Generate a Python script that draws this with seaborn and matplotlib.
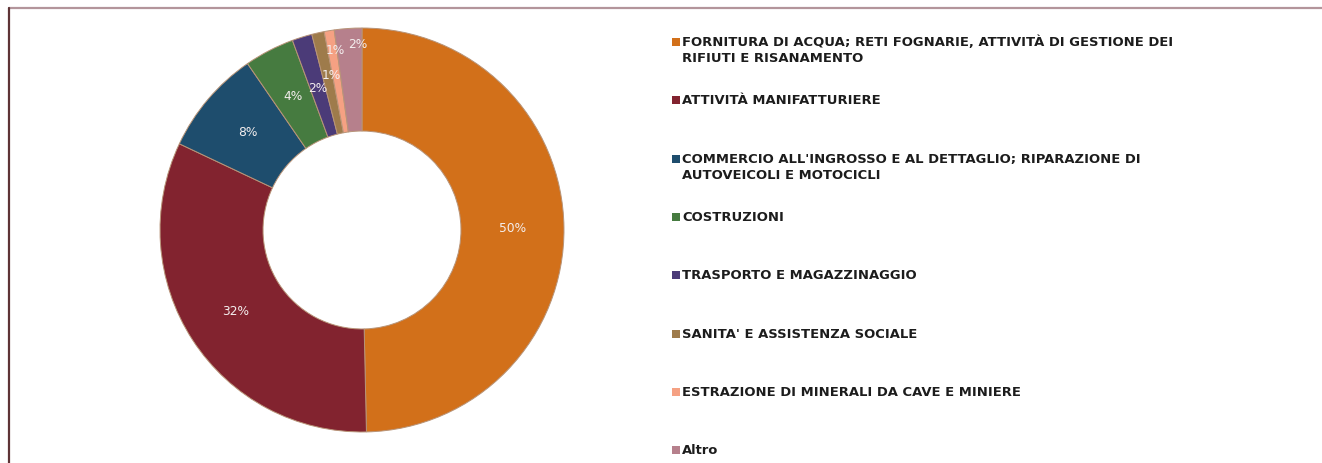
import matplotlib
matplotlib.use("Agg")
import matplotlib.pyplot as plt
from matplotlib.lines import Line2D
from matplotlib.patches import Rectangle
import numpy as np
import seaborn as sns

# sectors in the order they appear (clockwise from 12 o'clock)
sectors = [
    "FORNITURA DI ACQUA; RETI FOGNARIE, ATTIVITÀ DI GESTIONE DEI\nRIFIUTI E RISANAMENTO",
    "ATTIVITÀ MANIFATTURIERE",
    "COMMERCIO ALL'INGROSSO E AL DETTAGLIO; RIPARAZIONE DI\nAUTOVEICOLI E MOTOCICLI",
    "COSTRUZIONI",
    "TRASPORTO E MAGAZZINAGGIO",
    "SANITA' E ASSISTENZA SOCIALE",
    "ESTRAZIONE DI MINERALI DA CAVE E MINIERE",
    "Altro",
]
shares = [49.7, 32.4, 8.4, 4.0, 1.6, 1.0, 0.8, 2.2]
slice_colors = ["#D2701A", "#82232F", "#1E4D6D", "#467B40",
                "#4B3B78", "#9E7B4B", "#F5A183", "#B6808C"]

# where each percentage sits (fraction of outer radius, small angle nudge)
label_r = [0.745, 0.745, 0.745, 0.745, 0.735, 0.78, 0.9, 0.92]
label_nudge = [0, 0, 0, 0, 0, -1.2, -0.8, -2.6]

sns.set_theme(style="white")
plt.rcParams["font.family"] = ["DejaVu Sans"]

W, H = 1322, 463
fig = plt.figure(figsize=(W / 100, H / 100), dpi=100)
fig.patch.set_facecolor("white")

# donut
ax = fig.add_axes([158 / W, 29 / H, 408 / W, 408 / H])
wedges, _ = ax.pie(shares, colors=sns.color_palette(slice_colors), startangle=90,
                   counterclock=False, radius=1,
                   wedgeprops=dict(width=0.51, edgecolor="#B89478", linewidth=0.7))
ax.set_xlim(-1.01, 1.01)
ax.set_ylim(-1.01, 1.01)
ax.set_aspect("equal")
ax.axis("off")

for w, v, r, nd in zip(wedges, shares, label_r, label_nudge):
    ang = np.deg2rad((w.theta1 + w.theta2) / 2 + nd)
    ax.text(r * np.cos(ang), r * np.sin(ang), f"{v:.0f}%", ha="center", va="center",
            fontsize=8.8, color="#F4EEEE")

# legend drawn by hand so that every entry starts on a fixed grid
first_y, step, line_gap = 42, 58.3, 16
box_x, text_x, box = 672, 682, 8

# pick the font size so the longest line spans the same width as in the source
renderer = fig.canvas.get_renderer()
probe = fig.text(0, 0, sectors[0].split("\n")[0], fontsize=10, fontweight="bold")
probe_w = probe.get_window_extent(renderer).width
probe.remove()
legend_fs = 10 * 488 / probe_w

for i, (name, col) in enumerate(zip(sectors, slice_colors)):
    yc = first_y + i * step
    fig.patches.append(Rectangle((box_x / W, 1 - (yc + box / 2) / H), box / W, box / H,
                                 transform=fig.transFigure, facecolor=col,
                                 edgecolor="none"))
    for j, line in enumerate(name.split("\n")):
        fig.text(text_x / W, 1 - (yc + 4 + j * line_gap) / H, line, ha="left",
                 va="baseline", fontsize=legend_fs, fontweight="bold", color="#1C1C1C")

# frame lines of the original slide
fig.add_artist(Line2D([9 / W, 1], [1 - 8 / H, 1 - 8 / H], color="#B3959B",
                      linewidth=1.6, transform=fig.transFigure))
fig.add_artist(Line2D([9 / W, 9 / W], [0, 1 - 8 / H], color="#5E3436",
                      linewidth=1.6, transform=fig.transFigure))

fig.savefig("out.png", dpi=100, facecolor="white")
